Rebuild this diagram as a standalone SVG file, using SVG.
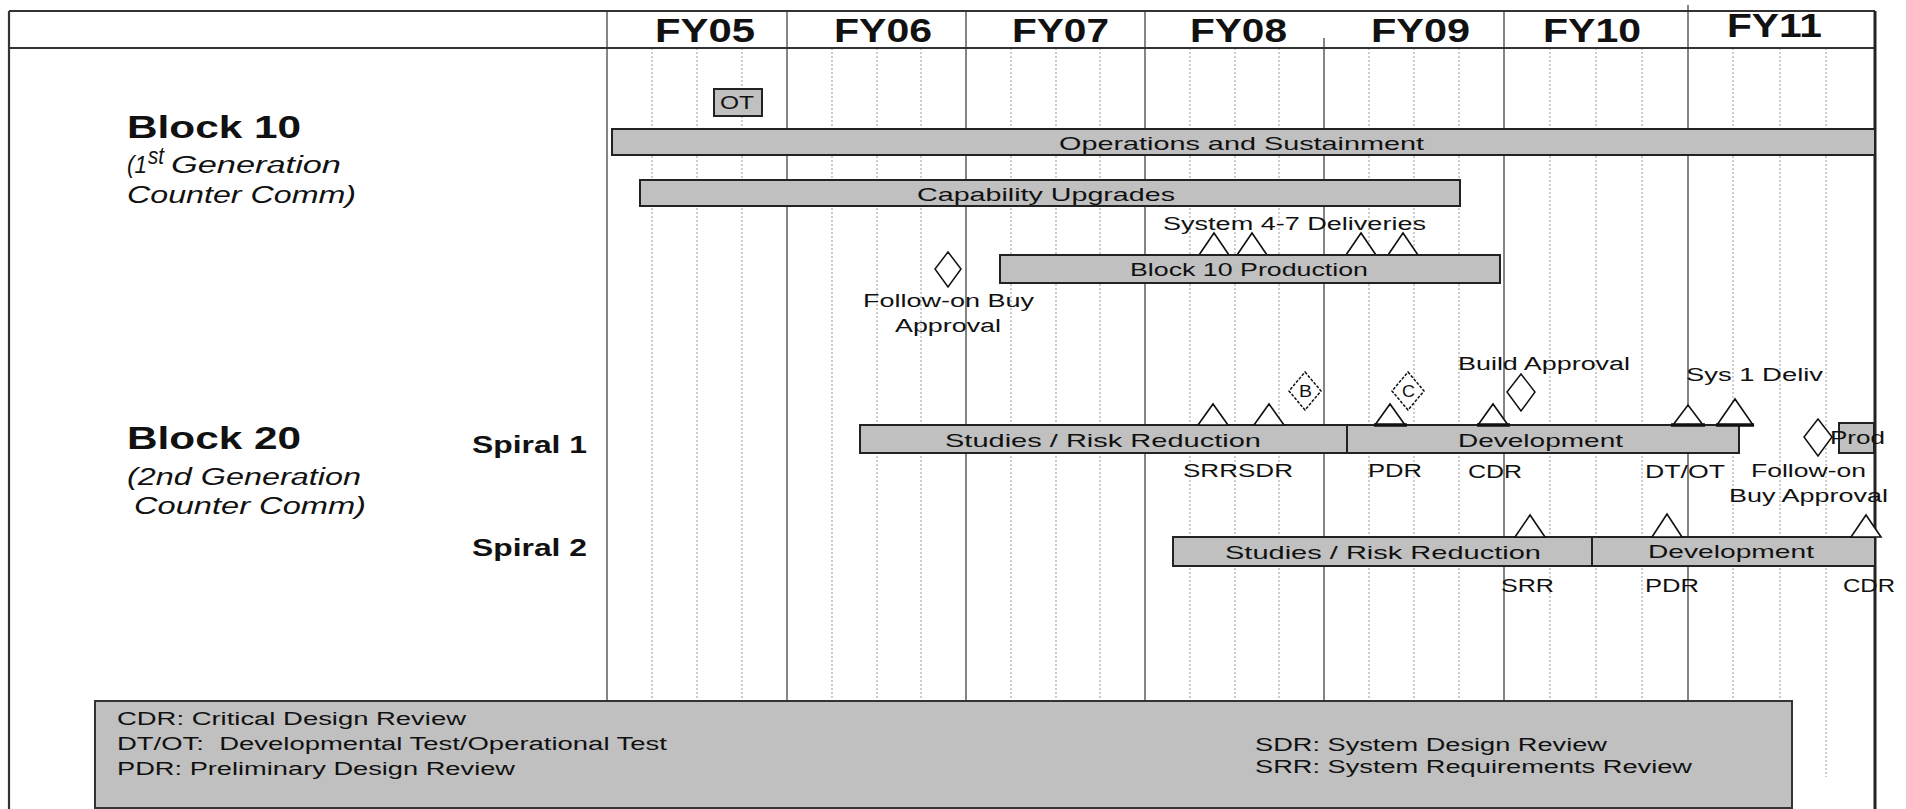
<svg xmlns="http://www.w3.org/2000/svg" width="1906" height="809" viewBox="0 0 1906 809">
<style>
.t{font-family:"Liberation Sans",Arial,sans-serif;fill:#111}
.hd{font-size:33px;font-weight:bold}
.blk{font-size:32px;font-weight:bold}
.sp{font-size:24px;font-weight:bold}
.it{font-size:23px;font-style:italic}
.bl{font-size:19px}
.sm{font-size:18px}
.lg{font-size:18px}
.bar{fill:#c0c0c0;stroke:#222;stroke-width:2}
.tri{fill:#fff;stroke:#111;stroke-width:1.6;stroke-linejoin:miter}
.dia{fill:#fff;stroke:#111;stroke-width:1.5}
.base{stroke:#111;stroke-width:3.5}
.dot{stroke:#aaa;stroke-width:1.2;stroke-dasharray:2 2;fill:none}
.yr{stroke:#666;stroke-width:1.6;fill:none}
.fr{stroke:#333;stroke-width:2.2;fill:none}
</style>

<g id="grid">
  <path class="dot" d="M652 48V777M697 48V777M742 48V777M832 48V777M877 48V777M921 48V777M1011 48V777M1056 48V777M1100 48V777M1190 48V777M1235 48V777M1279 48V777M1369 48V777M1414 48V777M1459 48V777M1550 48V777M1596 48V777M1642 48V777M1733 48V777M1780 48V777M1826 48V777"/>
  <path class="yr" d="M607 11V809M787 11V809M966 11V809M1145 11V809M1324 38V809M1504 11V809M1688 5V809"/>
  <path class="fr" d="M9 11H1875M9 48H1875M9 11V809"/>
  <path d="M1875 11V809" stroke="#222" stroke-width="3" fill="none"/>
</g>

<g id="header">
  <text class="t hd" x="655" y="42" textLength="100" lengthAdjust="spacingAndGlyphs">FY05</text>
  <text class="t hd" x="834" y="42" textLength="98" lengthAdjust="spacingAndGlyphs">FY06</text>
  <text class="t hd" x="1012" y="42" textLength="97" lengthAdjust="spacingAndGlyphs">FY07</text>
  <text class="t hd" x="1190" y="42" textLength="97" lengthAdjust="spacingAndGlyphs">FY08</text>
  <text class="t hd" x="1371" y="42" textLength="99" lengthAdjust="spacingAndGlyphs">FY09</text>
  <text class="t hd" x="1543" y="42" textLength="98" lengthAdjust="spacingAndGlyphs">FY10</text>
  <text class="t hd" x="1727" y="37" textLength="95" lengthAdjust="spacingAndGlyphs">FY11</text>
</g>

<g id="row-labels">
  <text class="t blk" x="127" y="138" textLength="174" lengthAdjust="spacingAndGlyphs">Block 10</text>
  <text class="t it" x="127" y="173" textLength="20" lengthAdjust="spacingAndGlyphs">(1</text>
  <text class="t it" x="148" y="164" font-size="14" textLength="16" lengthAdjust="spacingAndGlyphs">st</text>
  <text class="t it" x="171" y="173" textLength="170" lengthAdjust="spacingAndGlyphs">Generation</text>
  <text class="t it" x="127" y="203" textLength="229" lengthAdjust="spacingAndGlyphs">Counter Comm)</text>
  <text class="t blk" x="127" y="449" textLength="174" lengthAdjust="spacingAndGlyphs">Block 20</text>
  <text class="t it" x="127" y="485" textLength="234" lengthAdjust="spacingAndGlyphs">(2nd Generation</text>
  <text class="t it" x="134" y="514" textLength="232" lengthAdjust="spacingAndGlyphs">Counter Comm)</text>
  <text class="t sp" x="472" y="453" textLength="115" lengthAdjust="spacingAndGlyphs">Spiral 1</text>
  <text class="t sp" x="472" y="556" textLength="115" lengthAdjust="spacingAndGlyphs">Spiral 2</text>
</g>

<g id="block10">
  <g id="ot">
    <rect class="bar" x="714" y="89" width="48" height="27"/>
    <text class="t sm" x="720" y="109" textLength="34" lengthAdjust="spacingAndGlyphs">OT</text>
  </g>
  <g id="ops">
    <rect class="bar" x="612" y="129" width="1263" height="26"/>
    <text class="t bl" x="1059" y="150" textLength="365" lengthAdjust="spacingAndGlyphs">Operations and Sustainment</text>
  </g>
  <g id="capability">
    <rect class="bar" x="640" y="180" width="820" height="26"/>
    <text class="t bl" x="917" y="201" textLength="258" lengthAdjust="spacingAndGlyphs">Capability Upgrades</text>
  </g>
  <g id="deliveries">
    <text class="t sm" x="1163" y="230" textLength="263" lengthAdjust="spacingAndGlyphs">System 4-7 Deliveries</text>
    <path class="tri" d="M1199 255L1214 233L1229 255ZM1237 255L1252 233L1267 255ZM1346 255L1361 233L1376 255ZM1388 255L1403 233L1418 255Z"/>
  </g>
  <g id="production">
    <rect class="bar" x="1000" y="255" width="500" height="28"/>
    <text class="t bl" x="1130" y="276" textLength="238" lengthAdjust="spacingAndGlyphs">Block 10 Production</text>
  </g>
  <g id="followon1">
    <path class="dia" d="M948 252L961 269L948 287L935 269Z"/>
    <text class="t sm" x="863" y="307" textLength="171" lengthAdjust="spacingAndGlyphs">Follow-on Buy</text>
    <text class="t sm" x="895" y="332" textLength="106" lengthAdjust="spacingAndGlyphs">Approval</text>
  </g>
</g>

<g id="spiral1">
  <g id="s1-studies">
    <rect class="bar" x="860" y="425" width="487" height="28"/>
    <text class="t bl" x="945" y="447" textLength="316" lengthAdjust="spacingAndGlyphs">Studies / Risk Reduction</text>
  </g>
  <g id="s1-dev">
    <rect class="bar" x="1347" y="425" width="392" height="28"/>
    <text class="t bl" x="1458" y="447" textLength="165" lengthAdjust="spacingAndGlyphs">Development</text>
  </g>
  <g id="s1-milestones">
    <path class="tri" d="M1198 425L1213 404L1228 425ZM1254 425L1269 404L1284 425ZM1375 425L1390 404L1405 425ZM1478 425L1493 404L1508 425ZM1673 425L1688 405L1703 425ZM1717 425L1735 399L1753 425Z"/>
    <path class="base" d="M1374 425H1407M1477 425H1510M1671 425H1705M1716 425H1754"/>
    <path class="dia" d="M1305 372L1321 391L1305 410L1289 391Z" stroke-dasharray="3 1.5"/>
    <text class="t" x="1299" y="397" font-size="16" textLength="13" lengthAdjust="spacingAndGlyphs">B</text>
    <path class="dia" d="M1408 372L1424 391L1408 410L1392 391Z" stroke-dasharray="3 1.5"/>
    <text class="t" x="1402" y="397" font-size="16" textLength="13" lengthAdjust="spacingAndGlyphs">C</text>
    <path class="dia" d="M1521 374L1535 392L1521 411L1507 392Z"/>
    <text class="t sm" x="1458" y="370" textLength="172" lengthAdjust="spacingAndGlyphs">Build Approval</text>
    <text class="t sm" x="1686" y="381" textLength="137" lengthAdjust="spacingAndGlyphs">Sys 1 Deliv</text>
    <text class="t sm" x="1183" y="477" textLength="110" lengthAdjust="spacingAndGlyphs">SRRSDR</text>
    <text class="t sm" x="1368" y="477" textLength="54" lengthAdjust="spacingAndGlyphs">PDR</text>
    <text class="t sm" x="1468" y="478" textLength="54" lengthAdjust="spacingAndGlyphs">CDR</text>
    <text class="t sm" x="1645" y="478" textLength="80" lengthAdjust="spacingAndGlyphs">DT/OT</text>
  </g>
  <g id="s1-prod">
    <rect class="bar" x="1839" y="423" width="35" height="30"/>
    <path class="dia" d="M1818 419L1832 437L1818 456L1804 437Z"/>
    <text class="t sm" x="1830" y="444" textLength="55" lengthAdjust="spacingAndGlyphs">Prod</text>
    <text class="t sm" x="1751" y="477" textLength="115" lengthAdjust="spacingAndGlyphs">Follow-on</text>
    <text class="t sm" x="1729" y="502" textLength="159" lengthAdjust="spacingAndGlyphs">Buy Approval</text>
  </g>
</g>

<g id="spiral2">
  <g id="s2-studies">
    <rect class="bar" x="1173" y="537" width="419" height="29"/>
    <text class="t bl" x="1225" y="559" textLength="316" lengthAdjust="spacingAndGlyphs">Studies / Risk Reduction</text>
  </g>
  <g id="s2-dev">
    <rect class="bar" x="1592" y="537" width="283" height="29"/>
    <text class="t bl" x="1648" y="558" textLength="166" lengthAdjust="spacingAndGlyphs">Development</text>
  </g>
  <g id="s2-milestones">
    <path class="tri" d="M1515 537L1530 515L1545 537ZM1652 537L1667 514L1682 537ZM1851 537L1866 515L1881 537Z"/>
    <text class="t sm" x="1501" y="592" textLength="53" lengthAdjust="spacingAndGlyphs">SRR</text>
    <text class="t sm" x="1645" y="592" textLength="54" lengthAdjust="spacingAndGlyphs">PDR</text>
    <text class="t sm" x="1843" y="592" textLength="52" lengthAdjust="spacingAndGlyphs">CDR</text>
  </g>
</g>

<g id="connectors"></g>

<g id="legend">
  <rect x="95" y="701" width="1697" height="107" fill="#c0c0c0" stroke="#333" stroke-width="2"/>
  <text class="t lg" x="117" y="725" textLength="349" lengthAdjust="spacingAndGlyphs">CDR: Critical Design Review</text>
  <text class="t lg" x="117" y="750" textLength="550" lengthAdjust="spacingAndGlyphs" xml:space="preserve">DT/OT:  Developmental Test/Operational Test</text>
  <text class="t lg" x="117" y="775" textLength="398" lengthAdjust="spacingAndGlyphs">PDR: Preliminary Design Review</text>
  <text class="t lg" x="1255" y="751" textLength="352" lengthAdjust="spacingAndGlyphs">SDR: System Design Review</text>
  <text class="t lg" x="1255" y="773" textLength="437" lengthAdjust="spacingAndGlyphs">SRR: System Requirements Review</text>
</g>
</svg>
